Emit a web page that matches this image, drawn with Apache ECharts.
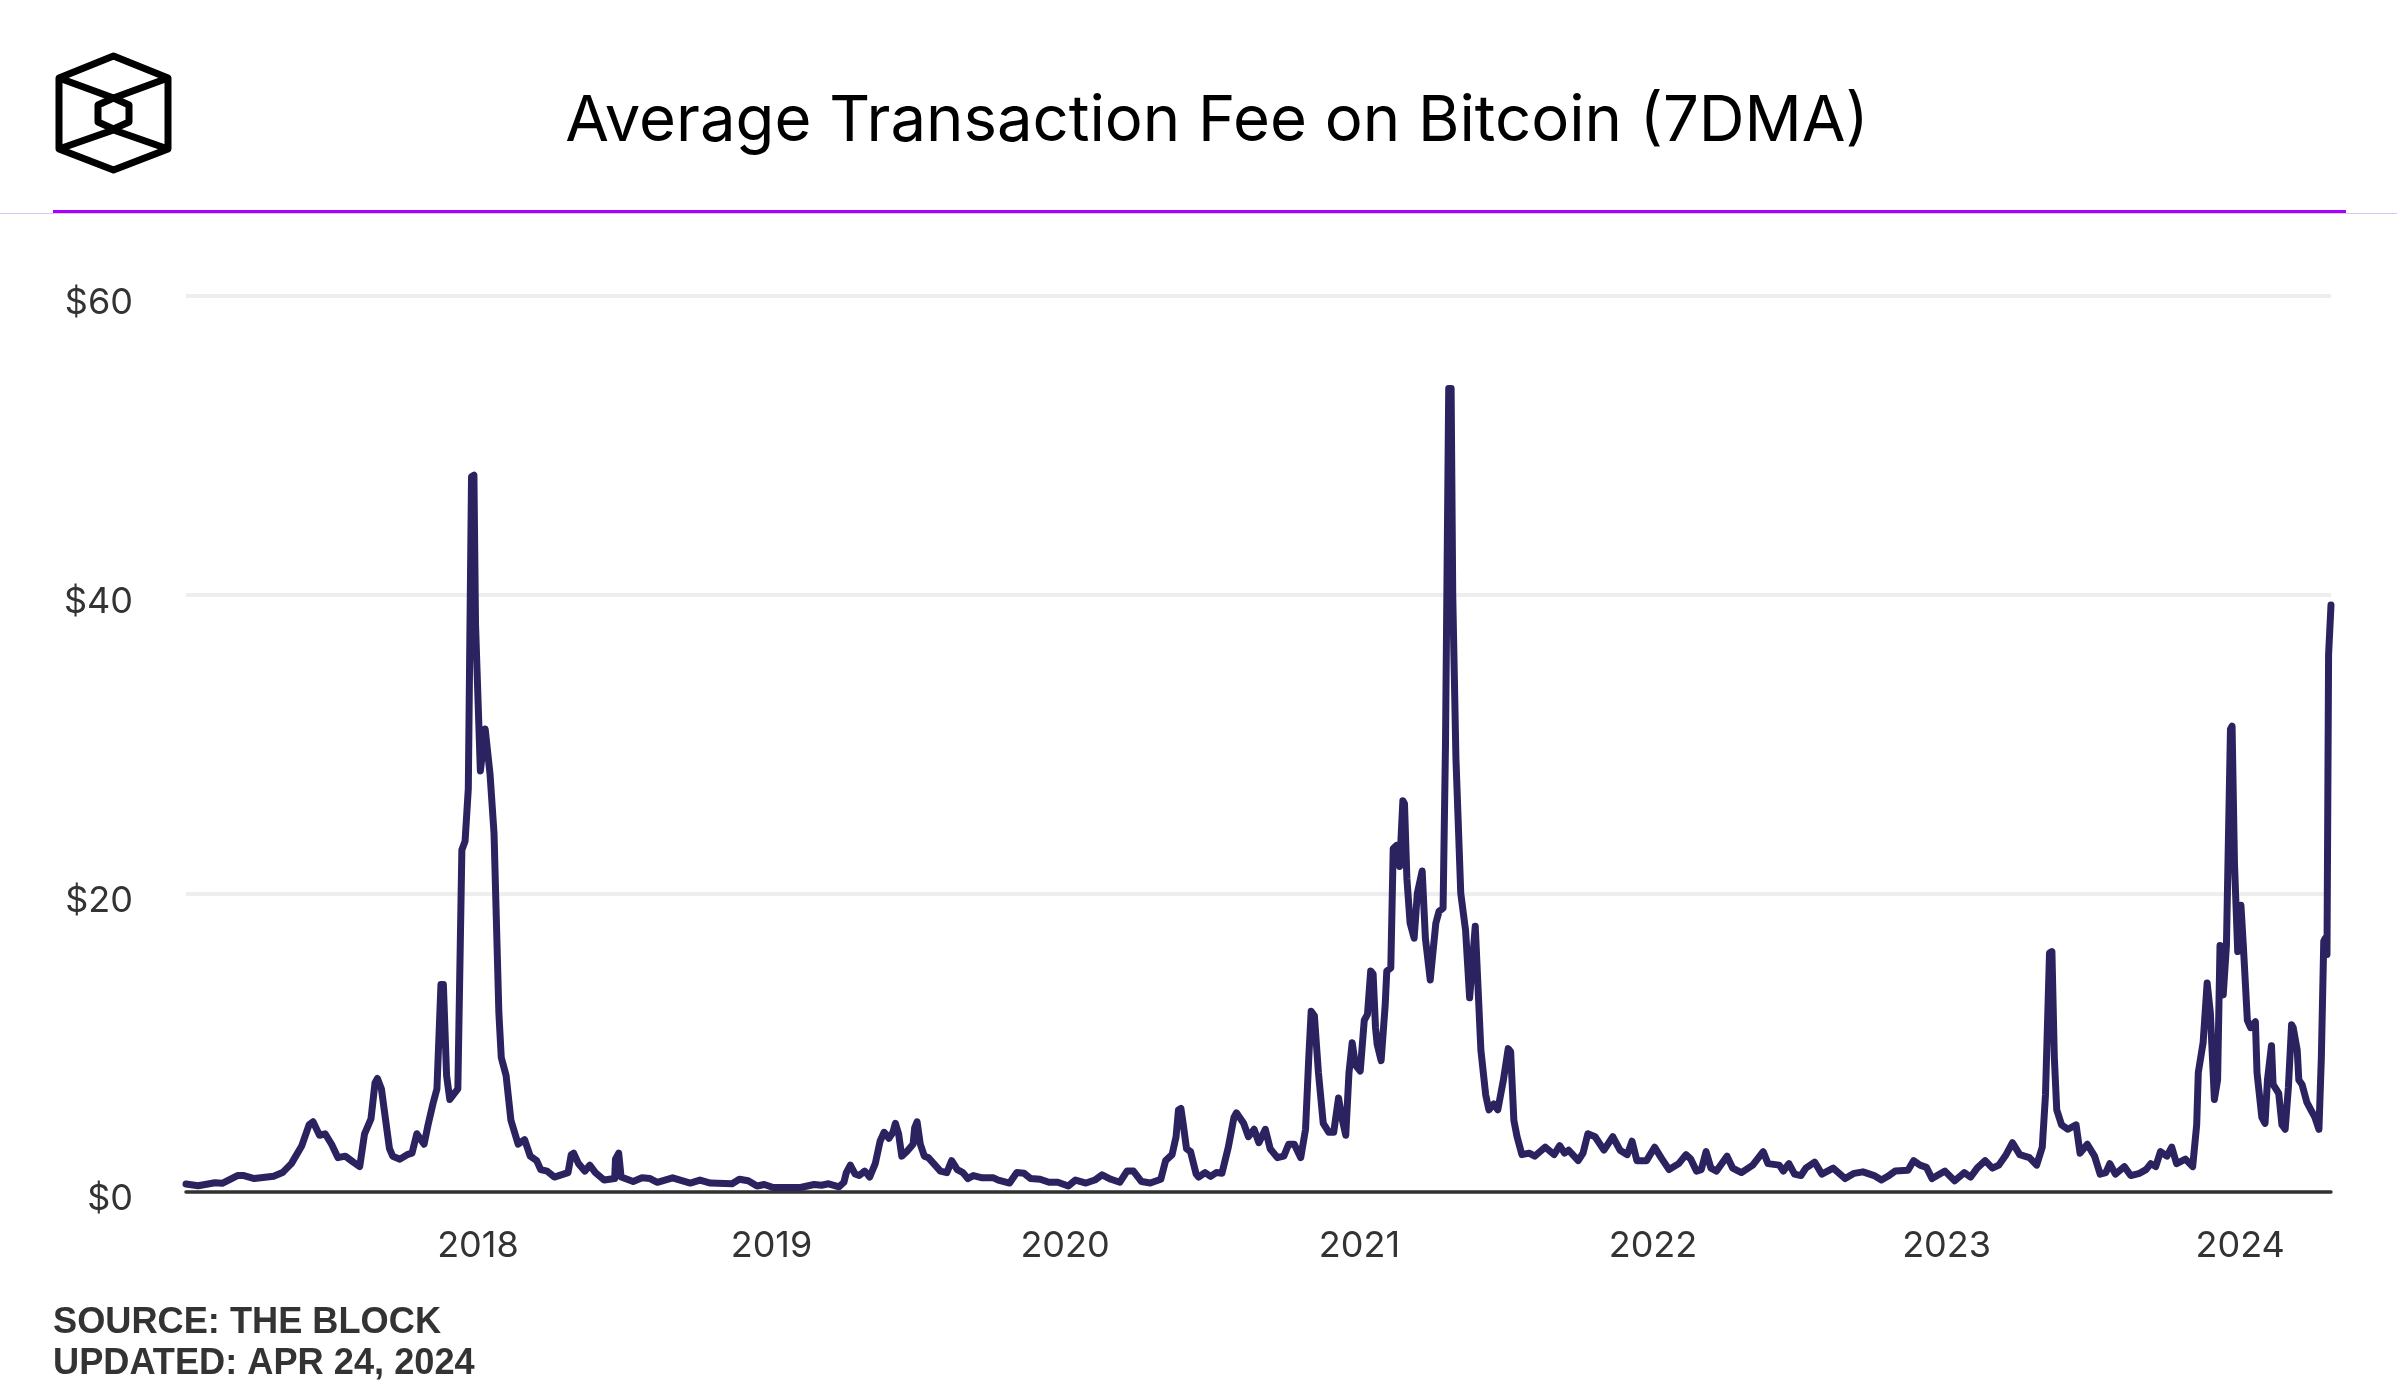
<!DOCTYPE html>
<html>
<head>
<meta charset="utf-8">
<title>Average Transaction Fee on Bitcoin (7DMA)</title>
<script src="https://cdn.jsdelivr.net/npm/echarts@6/dist/echarts.min.js"></script>
<style>
html, body { margin: 0; padding: 0; background: #fff; }
#main { width: 2401px; height: 1400px; }
</style>
</head>
<body>
<div id="main"></div>
<script>
// values, [month-day, USD]
var fees2017 = [['01-03',0.54],['01-18',0.42],['02-08',0.62],['02-17',0.58],['03-08',1.1],['03-16',1.1],['03-29',0.9],['04-22',1.05],['05-03',1.3],['05-14',1.9],['05-27',3.1],['06-05',4.5],['06-10',4.7],['06-18',3.8],['06-25',3.9],['07-03',3.2],['07-11',2.3],['07-20',2.4],['07-30',2.0],['08-07',1.7],['08-13',3.9],['08-21',4.9],['08-26',7.3],['08-29',7.6],['09-03',6.9],['09-13',2.9],['09-17',2.4],['09-26',2.2],['10-05',2.5],['10-11',2.6],['10-17',3.9],['10-26',3.2],['10-31',4.5],['11-06',5.9],['11-11',6.9],['11-16',13.9],['11-19',13.9],['11-23',7.8],['11-27',6.2],['12-07',6.9],['12-12',22.9],['12-16',23.5],['12-20',27],['12-24',47.9],['12-27',48],['12-29',38]];
var fees2018 = [['01-04',28.2],['01-10',31],['01-16',28],['01-21',24],['01-27',12],['01-30',9],['02-05',7.8],['02-11',4.8],['02-20',3.2],['02-28',3.5],['03-07',2.4],['03-15',2.1],['03-20',1.5],['03-28',1.4],['04-06',1.0],['04-23',1.3],['04-27',2.5],['04-30',2.6],['05-06',1.9],['05-14',1.4],['05-20',1.8],['05-27',1.3],['06-07',0.8],['06-20',0.9],['06-21',2.2],['06-25',2.6],['06-28',1.0],['07-13',0.7],['07-24',0.95],['08-03',0.9],['08-12',0.65],['08-31',0.95],['09-22',0.6],['10-04',0.8],['10-17',0.6],['11-13',0.55],['11-22',0.85],['12-03',0.75],['12-14',0.4],['12-23',0.5]];
var fees2019 = [['01-03',0.3],['02-06',0.3],['02-23',0.5],['03-04',0.45],['03-13',0.55],['03-26',0.35],['04-01',0.65],['04-04',1.3],['04-09',1.8],['04-15',1.2],['04-20',1.1],['04-27',1.4],['05-03',1.0],['05-10',1.9],['05-16',3.4],['05-21',4.0],['05-27',3.6],['06-01',4.0],['06-04',4.6],['06-08',3.9],['06-12',2.4],['06-18',2.7],['06-26',3.2],['06-28',4.3],['07-01',4.7],['07-05',3.2],['07-10',2.4],['07-15',2.3],['07-20',2.0],['07-30',1.4],['08-07',1.3],['08-13',2.1],['08-20',1.5],['08-27',1.3],['09-02',0.9],['09-09',1.1],['09-20',0.95],['10-04',0.95],['10-10',0.8],['10-24',0.6],['11-02',1.3],['11-11',1.25],['11-19',0.9],['12-01',0.85],['12-12',0.65],['12-23',0.65]];
var fees2020 = [['01-05',0.4],['01-14',0.8],['01-27',0.6],['02-07',0.8],['02-16',1.15],['02-27',0.85],['03-09',0.65],['03-18',1.4],['03-26',1.4],['04-05',0.7],['04-16',0.6],['04-29',0.85],['05-05',2.1],['05-13',2.5],['05-18',3.7],['05-21',5.5],['05-24',5.6],['05-27',4.5],['05-31',2.9],['06-05',2.7],['06-12',1.2],['06-15',1.0],['06-23',1.3],['06-30',1.05],['07-07',1.3],['07-14',1.25],['07-22',3.0],['07-29',5.0],['08-01',5.3],['08-10',4.6],['08-16',3.7],['08-23',4.2],['08-29',3.3],['09-06',4.2],['09-12',2.9],['09-21',2.3],['09-29',2.4],['10-05',3.2],['10-12',3.2],['10-20',2.3],['10-26',4.2],['10-30',9],['11-02',12.1],['11-06',11.8],['11-11',8],['11-17',4.6],['11-24',4.0],['11-30',4.0],['12-06',6.3],['12-10',5.0],['12-15',3.8],['12-19',8],['12-23',10.0],['12-27',8.5]];
var fees2021 = [['01-02',8.1],['01-07',11.5],['01-11',11.9],['01-15',14.8],['01-18',14.6],['01-21',11],['01-23',9.9],['01-28',8.8],['02-02',12.5],['02-04',14.8],['02-09',15],['02-12',23],['02-16',23.2],['02-20',21.8],['02-24',26.2],['02-26',26],['03-01',21],['03-05',18],['03-10',17],['03-14',20],['03-20',21.5],['03-24',17],['03-30',14.2],['04-06',18],['04-10',18.8],['04-15',19],['04-18',30],['04-22',53.8],['04-25',53.8],['04-27',40],['05-01',29],['05-07',20],['05-13',17.5],['05-18',13],['05-25',17.8],['06-01',9.5],['06-07',6.5],['06-11',5.5],['06-17',5.9],['06-22',5.5],['06-29',7.5],['07-05',9.6],['07-08',9.4],['07-12',4.8],['07-16',3.7],['07-22',2.5],['07-31',2.6],['08-07',2.4],['08-20',3.0],['08-31',2.5],['09-07',3.1],['09-13',2.6],['09-18',2.8],['09-30',2.1],['10-06',2.6],['10-12',3.9],['10-21',3.7],['11-01',2.8],['11-12',3.7],['11-21',2.8],['11-30',2.5],['12-06',3.4],['12-12',2.1],['12-24',2.1]];
var fees2022 = [['01-03',3.0],['01-11',2.3],['01-21',1.5],['02-02',1.9],['02-11',2.5],['02-17',2.2],['02-24',1.4],['03-02',1.5],['03-08',2.7],['03-14',1.6],['03-21',1.4],['04-03',2.4],['04-10',1.6],['04-21',1.3],['05-05',1.8],['05-18',2.7],['05-24',1.9],['06-07',1.8],['06-12',1.4],['06-19',1.9],['06-26',1.2],['07-04',1.1],['07-10',1.6],['07-21',2.0],['07-30',1.2],['08-13',1.6],['08-28',0.9],['09-08',1.25],['09-19',1.35],['10-03',1.1],['10-12',0.8],['10-20',1.05],['10-29',1.4],['11-14',1.45],['11-21',2.1],['11-29',1.8],['12-07',1.65],['12-14',0.9],['12-30',1.4]];
var fees2023 = [['01-11',0.75],['01-23',1.3],['01-31',1.0],['02-08',1.6],['02-18',2.1],['02-27',1.6],['03-07',1.8],['03-16',2.5],['03-24',3.3],['04-02',2.5],['04-14',2.3],['04-23',1.8],['04-30',3.0],['05-04',6.5],['05-09',16.0],['05-12',16.1],['05-15',9],['05-18',5.5],['05-24',4.5],['06-01',4.2],['06-11',4.5],['06-16',2.6],['06-25',3.2],['07-04',2.4],['07-11',1.2],['07-18',1.3],['07-23',1.9],['07-30',1.2],['08-10',1.7],['08-18',1.1],['08-29',1.25],['09-06',1.5],['09-12',1.9],['09-18',1.7],['09-24',2.7],['10-02',2.4],['10-08',3.0],['10-14',1.9],['10-25',2.2],['11-03',1.7],['11-08',4.5],['11-10',8],['11-16',10],['11-21',14],['11-25',12],['11-30',6.2],['12-04',7.5],['12-07',16.5],['12-11',13.2],['12-15',16.5],['12-20',31],['12-22',31.2],['12-25',22],['12-29',16.1]];
var fees2024 = [['01-02',19.2],['01-05',16.5],['01-10',11.5],['01-14',11],['01-20',11.4],['01-22',8],['01-28',5],['02-01',4.6],['02-04',7.5],['02-09',9.8],['02-11',7.2],['02-18',6.6],['02-22',4.5],['02-26',4.2],['03-01',7],['03-05',11.2],['03-07',11],['03-12',9.5],['03-14',7.5],['03-18',7.2],['03-24',6],['03-30',5.4],['04-03',5.0],['04-08',4.2],['04-11',9],['04-14',16.8],['04-16',17],['04-18',15.9],['04-20',36],['04-23',39.3]];
var titleText = 'Average Transaction Fee on Bitcoin (7DMA)';
var sourceLines = ['SOURCE: THE BLOCK', 'UPDATED: APR 24, 2024'];

function withYear(year, rows) {
	return rows.map(function(r) {
		return [year + '-' + r[0], r[1]];
	});
}

var feeData = [].concat(
	withYear(2017, fees2017), withYear(2018, fees2018), withYear(2019, fees2019),
	withYear(2020, fees2020), withYear(2021, fees2021), withYear(2022, fees2022),
	withYear(2023, fees2023), withYear(2024, fees2024)
);

var labelFont = 'Inter, "Noto Sans", sans-serif';

var myChart = echarts.init(document.getElementById('main'), null, { renderer: 'canvas' });

var option = {
	animation: false,
	backgroundColor: '#ffffff',
	title: {
		text: titleText,
		left: 1212,
		top: 85,
		textAlign: 'center',
		textStyle: { fontFamily: labelFont, fontSize: 63.4, fontWeight: 400, color: '#000' }
	},
	grid: { left: 186, right: 70, top: 296, bottom: 208 },
	xAxis: {
		type: 'time',
		min: '2017-01-03',
		max: '2024-04-23',
		axisLine: { show: true, onZero: false, lineStyle: { color: '#333', width: 3.5 } },
		axisTick: { show: false },
		splitLine: { show: false },
		axisLabel: {
			formatter: function(v) {
				var d = new Date(v);
				return d.getMonth() === 0 && d.getDate() === 1 ? String(d.getFullYear()) : '';
			},
			color: '#333',
			fontFamily: labelFont,
			fontSize: 36,
			margin: 36,
			showMinLabel: false,
			showMaxLabel: false,
			hideOverlap: false
		}
	},
	yAxis: {
		type: 'value',
		min: 0,
		max: 60,
		interval: 20,
		axisLine: { show: false },
		axisTick: { show: false },
		splitLine: { lineStyle: { color: '#eeeeee', width: 4 } },
		axisLabel: {
			formatter: function(v) { return '$' + v; },
			color: '#333',
			fontFamily: labelFont,
			fontSize: 36,
			margin: 53,
			verticalAlign: 'top',
			lineHeight: 15
		}
	},
	series: [{
		name: 'Average Transaction Fee',
		type: 'line',
		data: feeData,
		showSymbol: false,
		smooth: false,
		sampling: false,
		lineStyle: { color: '#2a2360', width: 7, cap: 'round', join: 'round' },
		clip: false
	}],
	graphic: [
		// header rules
		{ type: 'rect', shape: { x: 0, y: 213, width: 2397, height: 1 }, style: { fill: '#e0c4f5' } },
		{ type: 'rect', shape: { x: 53, y: 210, width: 2293, height: 3 }, style: { fill: '#a800ff' } },
		// logo
		{ type: 'polygon', shape: { points: [[113.5,56],[168,78],[168,149],[113.5,170],[59,149],[59,78]] }, style: { fill: 'none', stroke: '#000', lineWidth: 7, lineJoin: 'round' } },
		{ type: 'polyline', shape: { points: [[59,78],[113.5,98],[168,78]] }, style: { fill: 'none', stroke: '#000', lineWidth: 7 } },
		{ type: 'polyline', shape: { points: [[59,149],[113.5,130],[168,149]] }, style: { fill: 'none', stroke: '#000', lineWidth: 7 } },
		{ type: 'polygon', shape: { points: [[113.5,98],[129,105],[129,122],[113.5,129],[98,122],[98,105]] }, style: { fill: 'none', stroke: '#000', lineWidth: 7, lineJoin: 'round' } },
		// footer
		{ type: 'text', x: 53, y: 1305, style: { text: sourceLines[0], fill: '#333', font: 'bold 36.2px "Liberation Sans"' } },
		{ type: 'text', x: 53, y: 1346, style: { text: sourceLines[1], fill: '#333', font: 'bold 36.2px "Liberation Sans"' } }
	]
};

myChart.setOption(option);
</script>
</body>
</html>
